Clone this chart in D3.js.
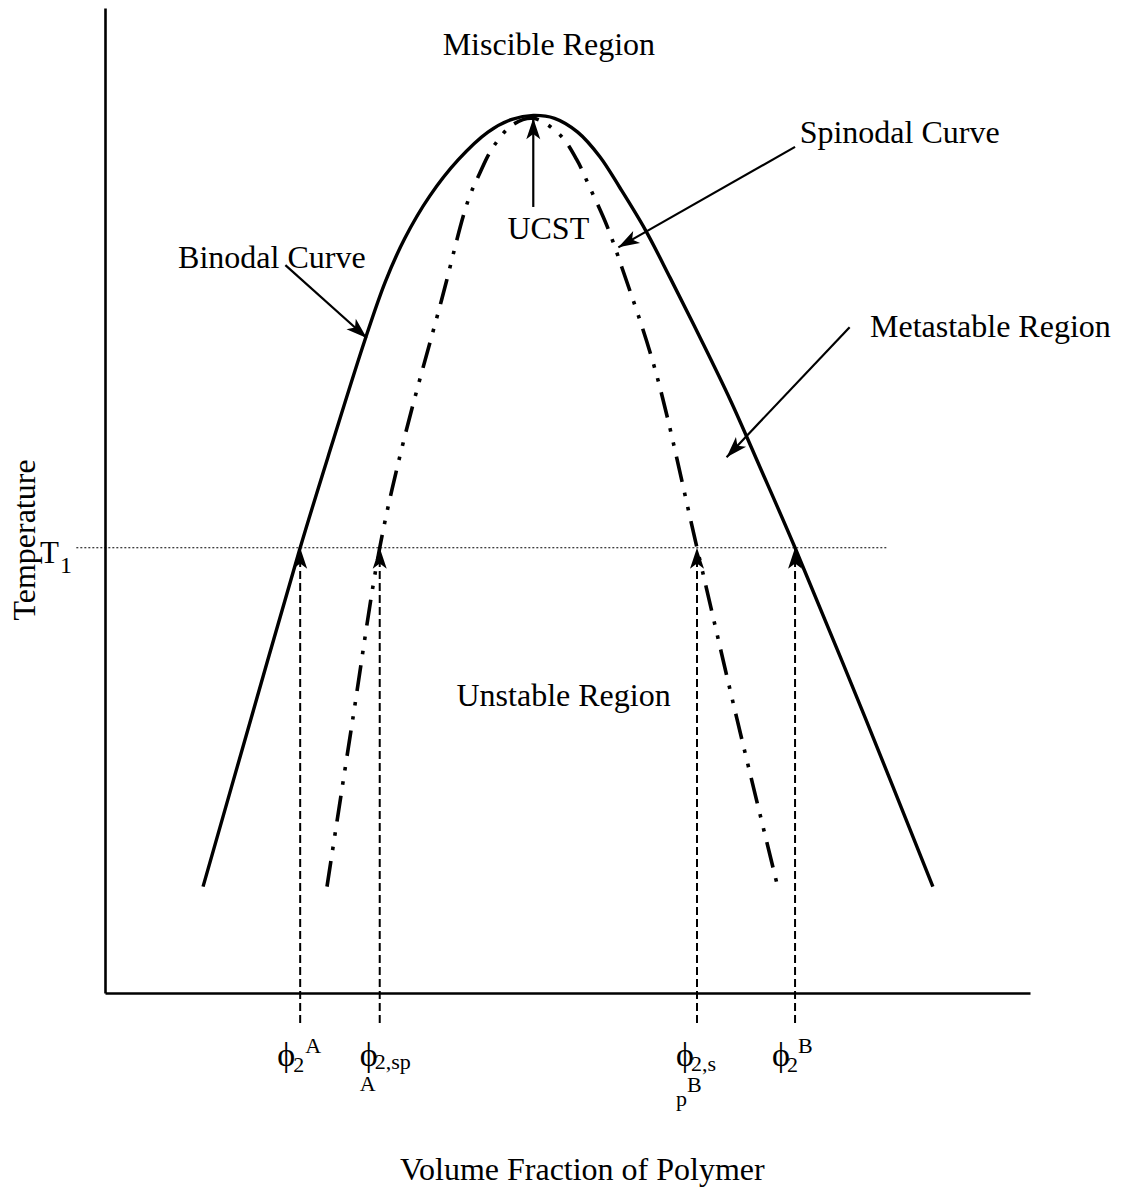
<!DOCTYPE html>
<html>
<head>
<meta charset="utf-8">
<script src="https://cdn.jsdelivr.net/npm/d3@7"></script>
<style>
  body { margin: 0; background: #fff; }
  text { font-family: "Liberation Serif", "Times New Roman", serif; fill: #000; }
</style>
</head>
<body>
<svg id="chart" width="1128" height="1195"></svg>
<script>
// Binodal (coexistence) curve: polymer volume fraction vs reduced temperature
const binodalPhi = [0.106, 0.158, 0.211, 0.245, 0.281, 0.303, 0.324, 0.351, 0.382, 0.414, 0.440, 0.463,
                    0.486, 0.511, 0.535, 0.557, 0.584, 0.611, 0.643, 0.676, 0.708, 0.746, 0.822, 0.895];
const binodalT   = [0.108, 0.279, 0.452, 0.556, 0.663, 0.722, 0.766, 0.809, 0.846, 0.874, 0.887, 0.891,
                    0.888, 0.874, 0.849, 0.817, 0.775, 0.726, 0.666, 0.602, 0.534, 0.452, 0.279, 0.108];

// Spinodal curve (limit of local stability)
const spinodalPhi = [0.240, 0.268, 0.297, 0.323, 0.364, 0.392, 0.405, 0.419, 0.440, 0.463,
                     0.492, 0.510, 0.524, 0.543, 0.559, 0.595, 0.640, 0.683, 0.728];
const spinodalT   = [0.108, 0.279, 0.452, 0.561, 0.704, 0.803, 0.832, 0.858, 0.881, 0.888,
                     0.871, 0.846, 0.818, 0.778, 0.736, 0.632, 0.452, 0.279, 0.105];

// Quench temperature T1 and the compositions where it meets each curve
const T1 = 0.452;
const crossingPhi = [0.211, 0.297, 0.640, 0.746];   // φ2^A, φ2,sp^A, φ2,sp^B, φ2^B

// Region / curve labels placed in data coordinates
const labelText = ["Miscible Region", "Spinodal Curve", "UCST", "Binodal Curve", "Metastable Region", "Unstable Region"];
const labelPhi  = [0.365, 0.751, 0.435, 0.079, 0.827, 0.380];
const labelT    = [0.952, 0.863, 0.765, 0.736, 0.666, 0.291];

// Pointer arrows: [from φ, from T, to φ, to T]
const pointerArrows = [
  [0.195, 0.739, 0.283, 0.665],   // Binodal Curve
  [0.746, 0.859, 0.555, 0.757],   // Spinodal Curve
  [0.805, 0.676, 0.672, 0.544],   // Metastable Region
  [0.463, 0.798, 0.463, 0.888]    // UCST
];

const svg = d3.select("#chart");
const x = d3.scaleLinear().domain([0, 1]).range([105, 1030]);
const y = d3.scaleLinear().domain([0, 1]).range([993, 8]);

// Axes: plain lines, no ticks
const xAxis = svg.append("g").attr("transform", `translate(0,${y(0)})`)
  .call(d3.axisBottom(x).tickValues([]).tickSizeOuter(0));
const yAxis = svg.append("g").attr("transform", `translate(${x(0)},0)`)
  .call(d3.axisLeft(y).tickValues([]).tickSizeOuter(0));
[xAxis, yAxis].forEach(g => g.select(".domain").attr("stroke", "#000").attr("stroke-width", 2.6));

// Filled arrowhead with its tip at (x2,y2)
function arrowHead(x1, y1, x2, y2, len, wid) {
  const a = Math.atan2(y2 - y1, x2 - x1);
  const bx = x2 - len * Math.cos(a), by = y2 - len * Math.sin(a);
  const nx = -Math.sin(a) * wid / 2, ny = Math.cos(a) * wid / 2;
  svg.append("path")
    .attr("d", `M${x2},${y2}L${bx + nx},${by + ny}L${bx + len * 0.25 * Math.cos(a)},${by + len * 0.25 * Math.sin(a)}L${bx - nx},${by - ny}Z`)
    .attr("fill", "#000");
}

// T1 isotherm (dotted)
svg.append("line")
  .attr("x1", x(-0.031)).attr("x2", x(0.846))
  .attr("y1", y(T1)).attr("y2", y(T1))
  .attr("stroke", "#000").attr("stroke-width", 1.1).attr("stroke-dasharray", "2 2");

const line = d3.line().x(d => x(d[0])).y(d => y(d[1])).curve(d3.curveCatmullRom.alpha(0.5));

// Binodal curve (solid)
svg.append("path")
  .datum(d3.zip(binodalPhi, binodalT))
  .attr("d", line)
  .attr("fill", "none").attr("stroke", "#000").attr("stroke-width", 3.4);

// Spinodal curve (dash-dot-dot)
svg.append("path")
  .datum(d3.zip(spinodalPhi, spinodalT))
  .attr("d", line)
  .attr("fill", "none").attr("stroke", "#000").attr("stroke-width", 3.6)
  .attr("stroke-dasharray", "26 11 3.5 11 3.5 11");

// Vertical dashed arrows from below the axis up to T1 at each crossing
crossingPhi.forEach(p => {
  const xp = x(p), yBottom = y(-0.0305), yTop = y(T1);
  svg.append("line")
    .attr("x1", xp).attr("x2", xp).attr("y1", yBottom).attr("y2", yTop + 14)
    .attr("stroke", "#000").attr("stroke-width", 2).attr("stroke-dasharray", "8 4");
  arrowHead(xp, yBottom, xp, yTop, 21, 14);
});

// Pointer arrows to curves and regions
pointerArrows.forEach(([p1, t1, p2, t2]) => {
  const x1 = x(p1), y1 = y(t1), x2 = x(p2), y2 = y(t2);
  svg.append("line").attr("x1", x1).attr("y1", y1).attr("x2", x2).attr("y2", y2)
    .attr("stroke", "#000").attr("stroke-width", 2.2);
  arrowHead(x1, y1, x2, y2, 21, 14);
});

// Region and curve labels
labelText.forEach((t, i) => {
  svg.append("text").attr("x", x(labelPhi[i])).attr("y", y(labelT[i]))
    .attr("font-size", 32).text(t);
});

// Axis titles
svg.append("text").attr("x", 400).attr("y", 1180).attr("font-size", 32)
  .text("Volume Fraction of Polymer");
svg.append("text").attr("transform", "translate(35,540) rotate(-90)")
  .attr("text-anchor", "middle").attr("font-size", 32).text("Temperature");

// T1 label
const t1Label = svg.append("text").attr("font-size", 31);
t1Label.append("tspan").attr("x", 40).attr("y", y(T1) + 15).text("T");
t1Label.append("tspan").attr("x", 60).attr("y", y(T1) + 25).attr("font-size", 24).text("1");

// Composition labels under the axis
const phiBase = y(0) + 73;
function phiLabel(px, pieces) {
  const g = svg.append("text").attr("font-size", 34);
  g.append("tspan").attr("x", px).attr("y", phiBase).text("\u03D5");
  pieces.forEach(pc => {
    g.append("tspan").attr("x", px + pc.dx).attr("y", phiBase + pc.dy)
      .attr("font-size", 22).text(pc.t);
  });
}
phiLabel(x(crossingPhi[0]) - 23, [{t: "2", dx: 16, dy: 6}, {t: "A", dx: 28, dy: -13}]);
phiLabel(x(crossingPhi[1]) - 20, [{t: "2,sp", dx: 15, dy: 3}, {t: "A", dx: 0, dy: 25}]);
phiLabel(x(crossingPhi[2]) - 21, [{t: "2,s", dx: 15, dy: 5}, {t: "B", dx: 11, dy: 26}, {t: "p", dx: 0, dy: 40}]);
phiLabel(x(crossingPhi[3]) - 23, [{t: "2", dx: 15, dy: 6}, {t: "B", dx: 26, dy: -13}]);
</script>
</body>
</html>
